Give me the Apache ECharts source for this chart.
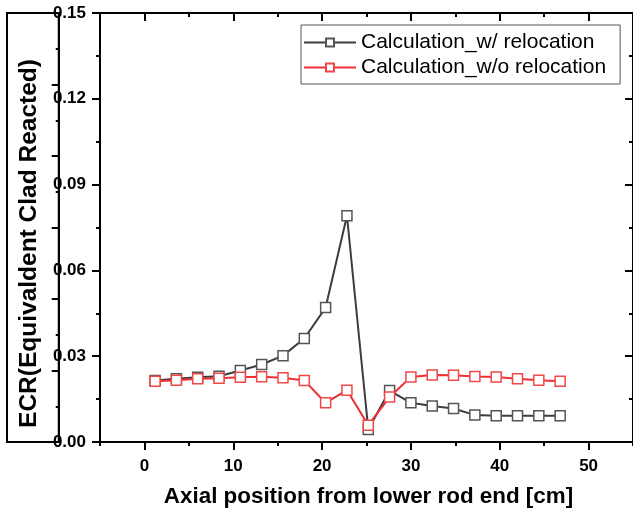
<!DOCTYPE html>
<html><head><meta charset="utf-8">
<script src="https://cdn.jsdelivr.net/npm/echarts@6/dist/echarts.min.js"></script>
<style>html,body{margin:0;padding:0;background:#fff}#c{width:633px;height:513px}</style>
</head><body><div id="c"></div>
<script>
const axialPos = [1.2,3.6,6.0,8.4,10.8,13.2,15.6,18.0,20.4,22.8,25.2,27.6,30.0,32.4,34.8,37.2,39.6,42.0,44.4,46.8];
const ecrWithReloc = [0.0215,0.0221,0.0226,0.0230,0.0250,0.0271,0.0302,0.0362,0.0470,0.0791,0.0044,0.0180,0.0137,0.0126,0.0117,0.0094,0.0092,0.0092,0.0092,0.0092];
const ecrWithoutReloc = [0.0212,0.0216,0.0221,0.0223,0.0226,0.0228,0.0225,0.0215,0.0137,0.0181,0.0059,0.0157,0.0227,0.0234,0.0233,0.0229,0.0227,0.0221,0.0216,0.0212];
const seriesNames = ['Calculation_w/ relocation','Calculation_w/o relocation'];
const xMajorTicks = [0,10,20,30,40,50];
const xMinorTicks = [-5,5,15,25,35,45,55];
const xTitle = 'Axial position from lower rod end [cm]';
const yTitle = 'ECR(Equivaldent Clad Reacted)';

const FONT = '"Liberation Sans", Arial, sans-serif';
const chart = echarts.init(document.getElementById('c'), null, {renderer:'canvas'});
const axLine = {show:true, onZero:false, lineStyle:{color:'#000', width:2}};
const noLine = {show:false, onZero:false};
const xBase = {type:'value', min:-5, max:55, gridIndex:0, splitLine:{show:false}};
const pairs = (xs, ys) => xs.map((x,i)=>[x, ys[i]]);

chart.setOption({
  backgroundColor:'#fff',
  animation:false,
  grid:[
    {left:100, top:13, right:-3, bottom:70},
    {left:-200, right:626, top:13, bottom:71, show:true, borderColor:'#000', borderWidth:2, backgroundColor:'transparent'}
  ],
  legend:{
    left:301, top:25, orient:'vertical',
    data:seriesNames,
    borderColor:'#555', borderWidth:1,
    padding:[7,14,6,2], itemGap:4,
    itemWidth:52, itemHeight:10,
    textStyle:{fontFamily:FONT, fontSize:21, color:'#000'}
  },
  xAxis:[
    Object.assign({}, xBase, {
      position:'bottom', axisLine:axLine,
      axisTick:{show:true, customValues:xMajorTicks, length:8, lineStyle:{width:2,color:'#000'}},
      axisLabel:{show:true, customValues:xMajorTicks, margin:16, fontFamily:FONT, fontSize:17, fontWeight:'bold', color:'#000'},
      name:xTitle, nameLocation:'middle', nameGap:44,
      nameTextStyle:{fontFamily:FONT, fontSize:22.4, fontWeight:'bold', color:'#000', padding:[0,0,0,4]}
    }),
    Object.assign({}, xBase, {
      position:'bottom', axisLine:noLine,
      axisTick:{show:true, customValues:xMinorTicks, length:4, lineStyle:{width:2,color:'#000'}},
      axisLabel:{show:false}
    }),
    Object.assign({}, xBase, {
      position:'top', axisLine:axLine,
      axisTick:{show:true, inside:true, customValues:xMajorTicks, length:8, lineStyle:{width:2,color:'#000'}},
      axisLabel:{show:false}
    }),
    Object.assign({}, xBase, {
      position:'top', axisLine:noLine,
      axisTick:{show:true, inside:true, customValues:xMinorTicks, length:4, lineStyle:{width:2,color:'#000'}},
      axisLabel:{show:false}
    }),
    {type:'value', gridIndex:1, show:false, min:0, max:1, axisLine:noLine}
  ],
  yAxis:[
    {
      type:'value', gridIndex:0, position:'left', min:0, max:0.15, interval:0.03,
      axisLine:axLine,
      axisTick:{show:true, length:8, lineStyle:{width:2,color:'#000'}},
      minorTick:{show:true, splitNumber:2, length:4, lineStyle:{width:2,color:'#000'}},
      splitLine:{show:false},
      axisLabel:{margin:14, fontFamily:FONT, fontSize:17, fontWeight:'bold', color:'#000', formatter:v=>v.toFixed(2)},
      name:yTitle, nameLocation:'middle', nameGap:56, nameRotate:90,
      nameTextStyle:{fontFamily:FONT, fontSize:24.5, fontWeight:'bold', color:'#000', padding:[0,32,0,0]}
    },
    {
      type:'value', gridIndex:0, position:'right', min:0, max:0.15, interval:0.03,
      axisLine:axLine,
      axisTick:{show:true, inside:true, length:8, lineStyle:{width:2,color:'#000'}},
      minorTick:{show:true, splitNumber:2, length:4, lineStyle:{width:2,color:'#000'}},
      splitLine:{show:false}, axisLabel:{show:false}
    },
    {
      type:'value', gridIndex:1, position:'right', min:0, max:6, interval:1,
      axisLine:axLine,
      axisTick:{show:true, inside:true, length:7, lineStyle:{width:2,color:'#000'}},
      minorTick:{show:true, splitNumber:2, length:3, lineStyle:{width:2,color:'#000'}},
      splitLine:{show:false}, axisLabel:{show:false}
    }
  ],
  series:[
    {
      name:seriesNames[0], type:'line', xAxisIndex:0, yAxisIndex:0,
      data:pairs(axialPos, ecrWithReloc),
      symbol:'rect', symbolSize:10, showAllSymbol:true,
      lineStyle:{color:'#3d3d3d', width:2},
      itemStyle:{color:'#fff', borderColor:'#555', borderWidth:1.5},
      z:3
    },
    {
      name:seriesNames[1], type:'line', xAxisIndex:0, yAxisIndex:0,
      data:pairs(axialPos, ecrWithoutReloc),
      symbol:'rect', symbolSize:10, showAllSymbol:true,
      lineStyle:{color:'#ee2f36', width:2},
      itemStyle:{color:'#fff', borderColor:'#f04848', borderWidth:1.5},
      z:4
    }
  ]
});
</script></body></html>
